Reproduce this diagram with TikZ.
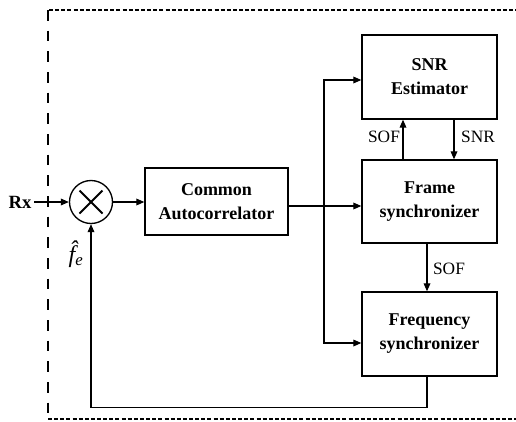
\documentclass[tikz,border=0pt]{standalone}
\usepackage{fontspec}
\setmainfont{Liberation Serif}
\usetikzlibrary{arrows.meta}
\begin{document}
\begin{tikzpicture}[x=0.75pt,y=-0.75pt,
  blk/.style={draw,line width=1pt,rectangle,align=center,inner sep=0pt,
    font=\fontsize{13.5}{18}\selectfont\bfseries},
  conn/.style={line width=0.9pt},
  arr/.style={line width=0.9pt,-{Triangle[length=6pt,width=5pt]}},
  lbl/.style={font=\fontsize{13}{15}\selectfont,inner sep=0pt},
  topdash/.style={line width=1.5pt,dash pattern=on 3pt off 1.6pt},
  sidedash/.style={line width=0.9pt,dash pattern=on 8pt off 7.5pt}]
\useasboundingbox (0,0) rectangle (516,421);
% frame
\draw[topdash] (49,10) -- (516,10);
\draw[sidedash] (48,10) -- (48,419);
\draw[topdash] (48,419) -- (516,419);
% blocks
\node[blk,minimum width=101.25pt,minimum height=63pt] (snr) at (429.5,77) {SNR\\Estimator};
\node[blk,minimum width=101.25pt,minimum height=62.25pt] (fs) at (429.5,201.5) {Frame\\synchronizer};
\node[blk,minimum width=101.25pt,minimum height=63pt] (fq) at (429.5,334) {Frequency\\synchronizer};
\node[blk,minimum width=107.25pt,minimum height=50.25pt] (ac) at (216.5,201.5) {Common\\Autocorrelator};
\node[draw,circle,line width=1pt,minimum size=32.25pt,inner sep=0pt] (mx) at (91,202) {};
\draw[line width=1.4pt] ([shift={(-11.5,-11.5)}]mx.center) -- ([shift={(11.5,11.5)}]mx.center);
\draw[line width=1.4pt] ([shift={(-11.5,11.5)}]mx.center) -- ([shift={(11.5,-11.5)}]mx.center);
% labels
\node[font=\fontsize{14}{16}\selectfont\bfseries,inner sep=0pt] (rx) at (20,202) {Rx};
\node[inner sep=0pt,font=\fontsize{18}{20}\selectfont\itshape] (fe) at (76,254) {f^^^^0302\textsubscript{e}};
% connectors
\draw[arr] ([xshift=2pt]rx.east) -- (mx.west);
\draw[arr] (mx.east) -- (ac.west |- mx.east);
\coordinate (jn) at (324,206);
\coordinate (b1) at (324,80);
\coordinate (b2) at (324,343);
\draw[arr] (ac.east |- jn) -- (fs.west |- jn);
\draw[arr] (jn) |- (snr.west |- b1);
\draw[arr] (jn) |- (fq.west |- b2);
\coordinate (s1) at (403,0);
\coordinate (s2) at (454,0);
\coordinate (s3) at (427,0);
\draw[arr] (fs.north -| s1) -- (snr.south -| s1);
\draw[arr] (snr.south -| s2) -- (fs.north -| s2);
\draw[arr] (fs.south -| s3) -- (fq.north -| s3);
\draw[arr] (fq.south -| s3) -- ++(0,31) -| (mx.south);
\node[lbl] (l1) at (384,137) {SOF};
\node[lbl] (l2) at (478,137) {SNR};
\node[lbl] (l3) at (449,269) {SOF};
\end{tikzpicture}
\end{document}
